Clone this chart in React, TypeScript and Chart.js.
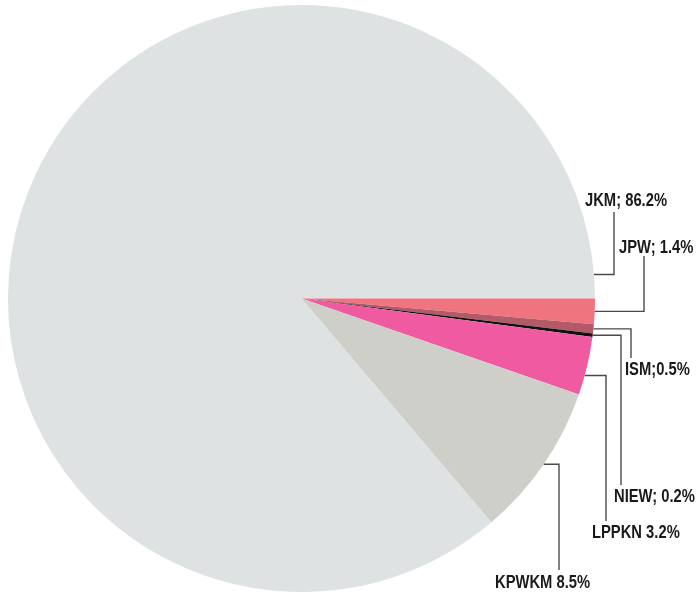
import React, { useEffect, useRef } from "react";
import { Chart, registerables } from "chart.js";

Chart.register(...registerables);

const categories = ["JKM", "JPW", "ISM", "NIEW", "LPPKN", "KPWKM"];
const values = [86.2, 1.4, 0.5, 0.2, 3.2, 8.5];
const labelTexts = ["JKM; 86.2%", "JPW; 1.4%", "ISM;0.5%", "NIEW; 0.2%", "LPPKN 3.2%", "KPWKM 8.5%"];
const colors = ["#dfe2e3", "#f07380", "#b35a68", "#111111", "#ef5aa0", "#cfcfca"];

// label layout: anchor angle (deg, from 3 o'clock clockwise; null = slice middle), elbow x, text left x, text center y
const labelLayout = [
  { angle: -4.7, elbowX: 614, textX: 585, textY: 200, endY: 212 },
  { angle: null, elbowX: 644, textX: 619, textY: 247, endY: 256 },
  { angle: null, elbowX: 631, textX: 625, textY: 369, endY: 358 },
  { angle: null, elbowX: 621, textX: 614, textY: 496, endY: 485 },
  { angle: 15.2, elbowX: 606, textX: 592, textY: 532, endY: 521 },
  { angle: null, elbowX: 559, textX: 495, textY: 582, endY: 570 },
];

const leaderPlugin = {
  id: "leaders",
  afterDraw(chart: any) {
    const ctx = chart.ctx;
    const meta = chart.getDatasetMeta(0);
    ctx.save();
    ctx.strokeStyle = "#4a4a4a";
    ctx.lineWidth = 1.4;
    ctx.fillStyle = "#1a1a1a";
    ctx.font = "bold 18px 'Liberation Sans', Arial, sans-serif";
    ctx.textBaseline = "middle";
    const sxScale = 0.82;
    meta.data.forEach((arc: any, i: number) => {
      const p = arc.getProps(["x", "y", "startAngle", "endAngle", "outerRadius"], true);
      const L = labelLayout[i];
      const a = L.angle === null ? (p.startAngle + p.endAngle) / 2 : (L.angle * Math.PI) / 180;
      const sx = p.x + Math.cos(a) * p.outerRadius;
      const sy = p.y + Math.sin(a) * p.outerRadius;
      ctx.beginPath();
      ctx.moveTo(sx, sy);
      ctx.lineTo(L.elbowX, sy);
      ctx.lineTo(L.elbowX, L.endY);
      ctx.stroke();
      ctx.save();
      ctx.translate(L.textX, L.textY + 1);
      ctx.scale(sxScale, 1);
      ctx.fillText(labelTexts[i], 0, 0);
      ctx.restore();
    });
    ctx.restore();
  },
};

export default function App() {
  const ref = useRef<HTMLCanvasElement>(null);
  useEffect(() => {
    const total = values.reduce((s, v) => s + v, 0);
    const chart = new Chart(ref.current!, {
      type: "pie",
      data: {
        labels: categories,
        datasets: [{ data: values, backgroundColor: colors, borderWidth: 0 }],
      },
      options: {
        responsive: false,
        animation: false,
        // JKM ends at 3 o'clock, so JPW starts there
        rotation: 90 - (values[0] / total) * 360,
        layout: { padding: { left: 8, right: 102, top: 5, bottom: 0 } },
        plugins: { legend: { display: false }, tooltip: { enabled: false } },
      },
      plugins: [leaderPlugin],
    });
    return () => chart.destroy();
  }, []);
  return (
    <div style={{ position: "fixed", left: 0, top: 0, width: 697, height: 592, background: "#fff" }}>
      <canvas ref={ref} width={697} height={592} />
    </div>
  );
}
